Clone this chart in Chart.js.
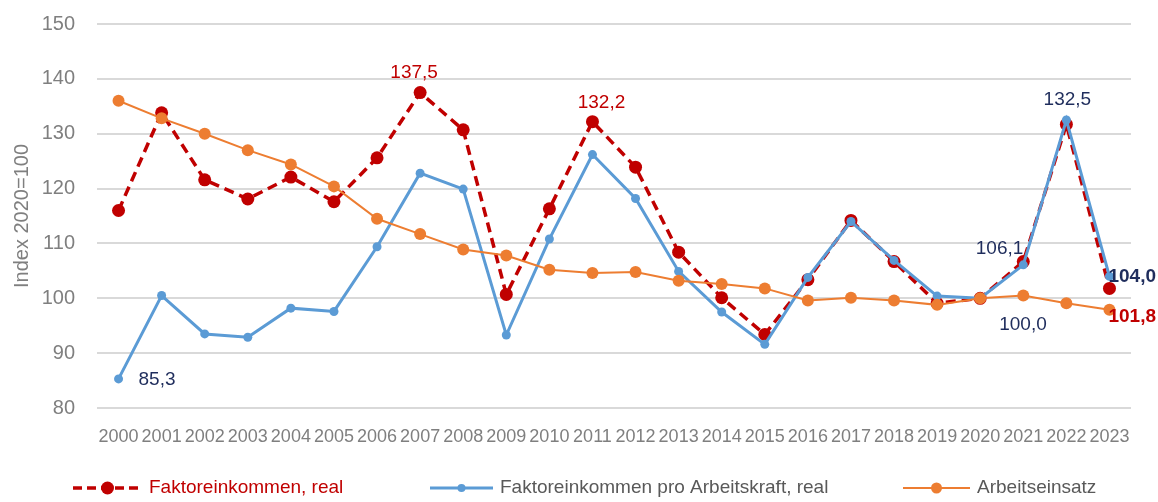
<!DOCTYPE html>
<html lang="de">
<head>
<meta charset="UTF-8">
<title>Faktoreinkommen</title>
<script src="https://cdn.jsdelivr.net/npm/chart.js"></script>
<style>
  html, body { margin: 0; padding: 0; background: #fff; }
  #wrap { width: 1158px; height: 502px; }
</style>
</head>
<body>
<div id="wrap"><canvas id="chart" width="1158" height="502"></canvas></div>
<script>
// data
const years = ['2000','2001','2002','2003','2004','2005','2006','2007','2008','2009','2010','2011',
               '2012','2013','2014','2015','2016','2017','2018','2019','2020','2021','2022','2023'];
const faktorReal = [116.0,133.8,121.6,118.1,122.1,117.6,125.6,137.5,130.7,100.7,116.3,132.2,
                    123.9,108.4,100.1,93.4,103.4,114.2,106.7,99.1,100.0,106.7,131.7,101.8];
const proArbeitskraft = [85.3,100.5,93.5,92.9,98.2,97.6,109.4,122.8,119.9,93.3,110.8,126.2,
                         118.2,104.9,97.5,91.6,103.8,114.0,106.9,100.4,100.0,106.1,132.5,104.0];
const arbeitseinsatz = [136.0,132.8,130.0,127.0,124.4,120.4,114.5,111.7,108.9,107.8,105.2,104.6,
                        104.8,103.2,102.6,101.8,99.6,100.1,99.6,98.8,100.0,100.5,99.1,97.9];
const seriesNames = ['Faktoreinkommen, real', 'Faktoreinkommen pro Arbeitskraft, real', 'Arbeitseinsatz'];

const RED = '#C00000', BLUE = '#5B9BD5', ORANGE = '#ED7D31', NAVY = '#1F2D5C', GREY = '#7F7F7F';
const FONT = '"Liberation Sans", Arial, sans-serif';

// which points get a value label: [dataset index, year index, colour, bold, dx, dy, align]
const labelSpecs = [
  [1, 0, NAVY, false, 20, 1, 'left'],
  [0, 7, RED, false, -6, -20, 'center'],
  [0, 11, RED, false, 9, -19, 'center'],
  [1, 22, NAVY, false, 1, -20, 'center'],
  [1, 21, NAVY, false, 0, -16, 'right'],
  [1, 20, NAVY, false, 19, 26, 'left'],
  [1, 23, NAVY, true, -1, 0, 'left'],
  [0, 23, RED, true, -1, 28, 'left']
];

const fmt = v => v.toFixed(1).replace('.', ',');

const valueLabels = {
  id: 'valueLabels',
  afterDatasetsDraw(chart) {
    const ctx = chart.ctx;
    ctx.save();
    ctx.textBaseline = 'middle';
    labelSpecs.forEach(([ds, i, color, bold, dx, dy, align]) => {
      const pt = chart.getDatasetMeta(ds).data[i];
      const v = chart.data.datasets[ds].data[i];
      ctx.font = (bold ? 'bold ' : '') + '19px ' + FONT;
      ctx.fillStyle = color;
      ctx.textAlign = align;
      ctx.fillText(fmt(v), pt.x + dx, pt.y + dy);
    });
    ctx.restore();
  }
};

// legend drawn by hand: line + marker + text
const legendItems = [
  { x1: 73, x2: 142, color: RED, dash: [9, 5], width: 3.5, r: 6.5, textColor: RED },
  { x1: 430, x2: 493, color: BLUE, dash: [], width: 3, r: 4, textColor: '#595959' },
  { x1: 903, x2: 970, color: ORANGE, dash: [], width: 2, r: 5.5, textColor: '#595959' }
];
const bottomLegend = {
  id: 'bottomLegend',
  afterDraw(chart) {
    const ctx = chart.ctx;
    const y = 488;
    ctx.save();
    legendItems.forEach((it, k) => {
      ctx.strokeStyle = it.color;
      ctx.lineWidth = it.width;
      ctx.setLineDash(it.dash);
      ctx.beginPath();
      ctx.moveTo(it.x1, y);
      ctx.lineTo(it.x2, y);
      ctx.stroke();
      ctx.setLineDash([]);
      ctx.fillStyle = it.color;
      ctx.beginPath();
      ctx.arc((it.x1 + it.x2) / 2, y, it.r, 0, Math.PI * 2);
      ctx.fill();
      ctx.font = '19px ' + FONT;
      ctx.fillStyle = it.textColor;
      ctx.textAlign = 'left';
      ctx.textBaseline = 'middle';
      ctx.fillText(seriesNames[k], it.x2 + 7, y);
    });
    ctx.restore();
  }
};

new Chart(document.getElementById('chart'), {
  type: 'line',
  data: {
    labels: years,
    datasets: [
      {
        label: seriesNames[0], data: faktorReal, order: 3,
        borderColor: RED, backgroundColor: RED, borderWidth: 3.5, borderDash: [10, 6],
        pointRadius: 6.5, pointBackgroundColor: RED, pointBorderColor: RED, pointBorderWidth: 0
      },
      {
        label: seriesNames[1], data: proArbeitskraft, order: 2,
        borderColor: BLUE, backgroundColor: BLUE, borderWidth: 3,
        pointRadius: 4.5, pointBackgroundColor: BLUE, pointBorderColor: BLUE, pointBorderWidth: 0
      },
      {
        label: seriesNames[2], data: arbeitseinsatz, order: 1,
        borderColor: ORANGE, backgroundColor: ORANGE, borderWidth: 2,
        pointRadius: 6, pointBackgroundColor: ORANGE, pointBorderColor: ORANGE, pointBorderWidth: 0
      }
    ]
  },
  options: {
    responsive: false,
    animation: false,
    layout: { padding: { top: 24, right: 27, bottom: 0, left: 0 } },
    plugins: { legend: { display: false }, tooltip: { enabled: false } },
    scales: {
      x: {
        offset: true,
        grid: { display: false },
        border: { display: false },
        ticks: { color: GREY, font: { family: FONT, size: 18 }, autoSkip: false, maxRotation: 0, padding: 10 },
        afterFit(scale) { scale.height = 94; }
      },
      y: {
        min: 80, max: 150,
        grid: { color: '#D9D9D9', lineWidth: 2, drawTicks: false },
        border: { display: false },
        ticks: { stepSize: 10, color: GREY, font: { family: FONT, size: 20 }, padding: 22 },
        title: { display: true, text: 'Index 2020=100', color: GREY, font: { family: FONT, size: 20 }, padding: { top: 10, bottom: 0 } },
        afterFit(scale) {
          scale.width = 97;
          scale.paddingTop = 10;
          scale.paddingBottom = 10;
        }
      }
    }
  },
  plugins: [valueLabels, bottomLegend]
});
</script>
</body>
</html>
